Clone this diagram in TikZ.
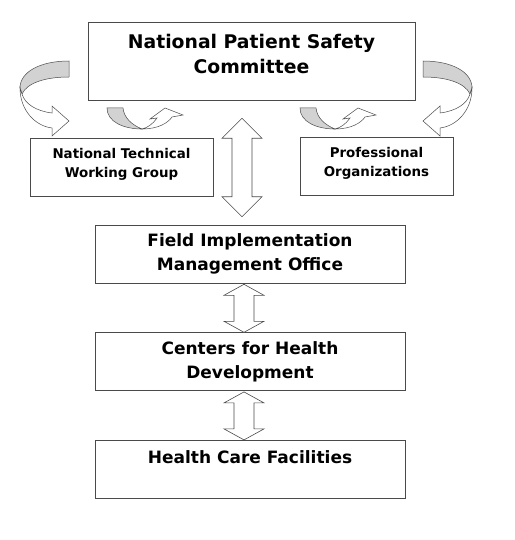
\documentclass[tikz,border=0pt]{standalone}
\usepackage{fontspec}
\setmainfont{DejaVu Sans}
\usepackage{tikz}
\usetikzlibrary{positioning,calc}
\definecolor{cLine}{HTML}{4A4A4A}
\definecolor{cBack}{HTML}{D2D2D2}

% two-headed block arrow: top tip, bottom tip, head length
\newcommand{\twoway}[3]{%
  \draw[twoway] let \p1=#1, \p2=#2 in
    (\x1,\y1) -- ++(20pt,-#3) -- ++(-10pt,0) -- (\x1+10pt,\y2+#3) -- ++(10pt,0)
    -- (\x2,\y2) -- ++(-20pt,#3) -- ++(10pt,0) -- (\x1-10pt,\y1-#3) -- ++(-10pt,0) -- cycle;}

% large twisted turn arrow (left side)
\newcommand{\bigturn}{%
  \filldraw[back] (69,61) .. controls (40,61) and (20,72) .. (20,88) -- (22,94)
    .. controls (27,83) and (45,77) .. (69,77) -- cycle;
  \filldraw[front] (20,88) .. controls (20,110) and (35,126) .. (52,128) -- (52,136)
    -- (69,121) -- (52,106) -- (52,113) .. controls (36,111) and (25,104) .. (22,94) -- cycle;}

% small curved-up arrow
\newcommand{\smallturn}{%
  \filldraw[back] (107,108) -- (123,108) .. controls (124,118) and (132,125) .. (142,129)
    .. controls (124,129) and (107,122) .. (107,108) -- cycle;
  \filldraw[front] (142,129) .. controls (158,129) and (168,123) .. (172,117) -- (183,115)
    -- (165,108) -- (150,119) -- (157,118) .. controls (153,124) and (147,128) .. (142,129) -- cycle;}

\begin{document}
\begin{tikzpicture}[
  x=1pt, y=-1pt,
  font=\bfseries,
  unit/.style={draw=cLine, line width=0.6pt, align=center, inner sep=2pt},
  topunit/.style={unit, minimum width=327pt, minimum height=78pt, text depth=15pt,
                  font=\bfseries\fontsize{18.8}{25}\selectfont},
  sideunit/.style={unit, minimum height=58pt, text depth=9pt,
                   font=\bfseries\fontsize{13.4}{19}\selectfont},
  fieldunit/.style={unit, minimum width=310pt, minimum height=58pt,
                    font=\bfseries\fontsize{17}{24}\selectfont},
  twoway/.style={draw=cLine, fill=white, line width=0.6pt, line join=miter},
  back/.style={draw=cLine, line width=0.5pt, fill=cBack},
  front/.style={draw=cLine, line width=0.5pt, fill=white},
  node distance=49pt,
]
\useasboundingbox (0,0) rectangle (514,540);

\node[topunit] (npsc) at (251.5,61) {National Patient Safety\\Committee};
\node[sideunit, minimum width=183pt] (ntwg) at (121.5,167) {National Technical\\Working Group};
\node[sideunit, minimum width=153pt] (prof) at (376.5,166.5) {Professional\\Organizations};
\node[fieldunit] (fimo) at (250,254) {Field Implementation\\Management Office};
\node[fieldunit, below=of fimo] (chd) {Centers for Health\\Development};
\node[fieldunit, below=of chd] (hcf) {Health Care Facilities\\\mbox{}};

\twoway{($(npsc.south)+(-9.5,18)$)}{($(fimo.north)+(-8,-8)$)}{20pt}
\twoway{($(fimo.south)+(-6,1)$)}{($(chd.north)+(-6,0)$)}{11pt}
\twoway{($(chd.south)+(-6,1)$)}{($(hcf.north)+(-6,0)$)}{11pt}

\bigturn
\begin{scope}[xshift=492pt, xscale=-1]
  \bigturn
\end{scope}
\smallturn
\begin{scope}[xshift=193pt]
  \smallturn
\end{scope}
\end{tikzpicture}
\end{document}
